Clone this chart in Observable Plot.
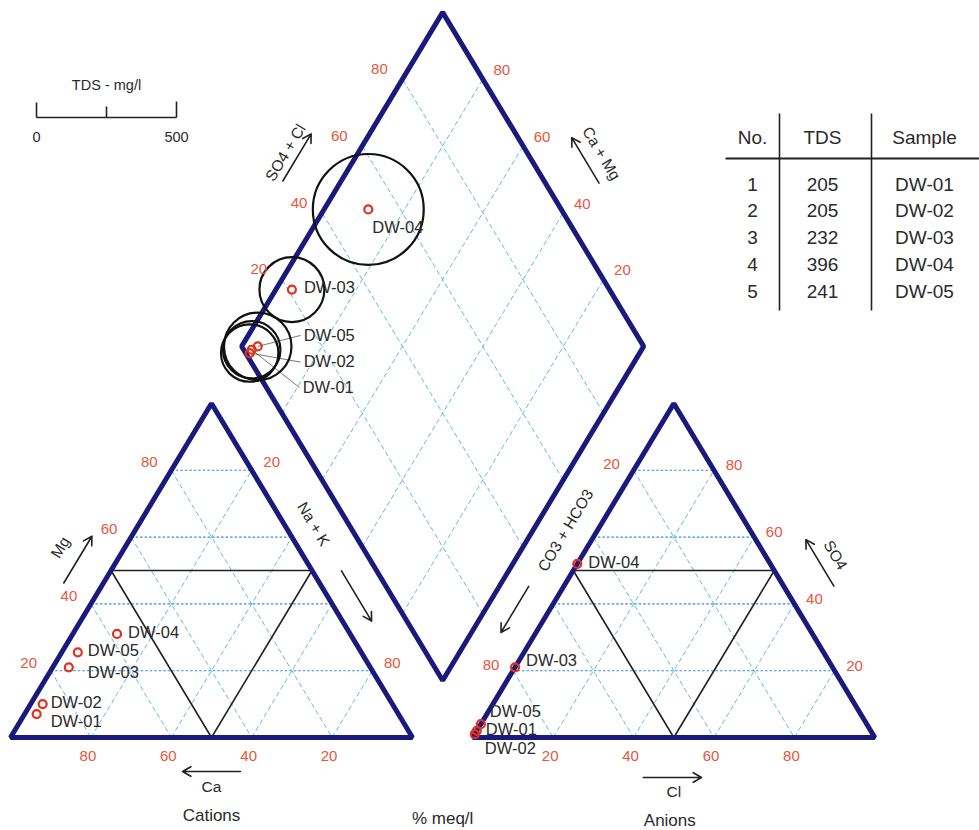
<!DOCTYPE html>
<html><head><meta charset="utf-8">
<script src="https://cdn.jsdelivr.net/npm/d3@7"></script>
<script src="https://cdn.jsdelivr.net/npm/@observablehq/plot@0.6"></script>
<style>body{margin:0;background:#fff;}</style>
</head><body><div id="chart"></div>
<script>
// ---------------- data ----------------
const samples  = ["DW-01", "DW-02", "DW-03", "DW-04", "DW-05"];
const sampleNo = [1, 2, 3, 4, 5];
const tds      = [205, 205, 232, 396, 241];
// cations, % meq/l
const caPct    = [90, 87, 75, 58, 70.5];
const mgPct    = [7, 10, 21, 31, 25.5];
const naKPct   = [3, 3, 4, 11, 4];
// anions, % meq/l
const hco3Pct  = [98, 99, 79, 48, 96];
const so4Pct   = [2, 1, 21, 52, 4];
const clPct    = [0, 0, 0, 0, 0];
const gridTicks = [20, 40, 60, 80];
const sparseTicks = [20, 80];   // edges where the axis title takes the middle
const tdsScaleDomain = [0, 500];
const tdsScaleLabels = ["0", "500"];
const tableHeaders = ["No.", "TDS", "Sample"];
const titleTexts = {cat: "Cations", an: "Anions", unit: "% meq/l", tds: "TDS - mg/l"};

// ---------------- layout ----------------
const W = 979, HT = 830;
const SIDE = 100, GAP = 15, H = SIDE * Math.sqrt(3) / 2, LIFT = 14.8;
const KX = 4.02, KY = 3.857, PX0 = 10, PY0 = 737;
const R_MAX = 70;
const xDomain = [-PX0 / KX, (W - PX0) / KX];
const yDomain = [(PY0 - HT) / KY, PY0 / KY];
const toPx = ([X, Y]) => [PX0 + X * KX, PY0 - Y * KY];
const fromPx = ([px, py]) => [(px - PX0) / KX, (PY0 - py) / KY];
const shift = (P, dx, dy) => [P[0] + dx / KX, P[1] - dy / KY];

const cat = (ca, mg, na) => [na + mg / 2, mg * H / 100];
const AX = SIDE + GAP;
const ani = (hco3, so4, cl) => [AX + cl + so4 / 2, so4 * H / 100];
const BX = SIDE + GAP / 2;
const dia = (a, c) => [BX + (a - c) / 2, LIFT + (a + c) * H / 100];

function edgeFrame(P0, P1, side) {
  const a = toPx(P0), b = toPx(P1);
  const len = Math.hypot(b[0] - a[0], b[1] - a[1]);
  const d = [(b[0] - a[0]) / len, (b[1] - a[1]) / len];
  const n = side === "left" ? [d[1], -d[0]] : [-d[1], d[0]];
  let ang = Math.atan2(d[1], d[0]) * 180 / Math.PI;
  if (ang < -90) ang += 180; if (ang > 90) ang -= 180;
  return {ang, at: (t, p) => fromPx([a[0] + d[0] * len * t + n[0] * p, a[1] + d[1] * len * t + n[1] * p])};
}

const RED = "#e8563c", NAVY = "#1a1a7c", TXT = "#2a2a2a";

// ---------------- derived ----------------
const rows = samples.map((s, i) => {
  const r = {s, no: sampleNo[i], tds: tds[i]};
  r.c = cat(caPct[i], mgPct[i], naKPct[i]);
  r.a = ani(hco3Pct[i], so4Pct[i], clPct[i]);
  r.d = dia(so4Pct[i] + clPct[i], caPct[i] + mgPct[i]);
  return r;
});
// label offsets (px) per panel
const catOff = [[14, 8], [8, -1], [19, 5], [11, -1], [10, -2]];
const aniOff = [[9, -1], [10, 15], [11, -7], [11, -1], [9, -12]];
const diaOff = [[51, 38], [54, 9], [12, -2], [4, 18], [46, -11]];
const diaLeader = [true, true, false, false, true];

const labels = [];
rows.forEach((r, i) => {
  labels.push({s: r.s, p: shift(r.c, ...catOff[i])});
  labels.push({s: r.s, p: shift(r.a, ...aniOff[i])});
  labels.push({s: r.s, p: shift(r.d, ...diaOff[i])});
});
const leaders = rows.map((r, i) => ({r, i})).filter(({i}) => diaLeader[i])
  .map(({r, i}) => ({p1: r.d, p2: shift(r.d, diaOff[i][0] - 3, diaOff[i][1])}));

const seg = (p1, p2) => ({p1, p2});
const hGrid = [], dGrid = [];
for (const v of gridTicks) {
  hGrid.push(seg(cat(100 - v, v, 0), cat(0, v, 100 - v)));
  dGrid.push(seg(cat(v, 100 - v, 0), cat(v, 0, 100 - v)));
  dGrid.push(seg(cat(100 - v, 0, v), cat(0, 100 - v, v)));
  hGrid.push(seg(ani(100 - v, v, 0), ani(0, v, 100 - v)));
  dGrid.push(seg(ani(v, 100 - v, 0), ani(v, 0, 100 - v)));
  dGrid.push(seg(ani(100 - v, 0, v), ani(0, 100 - v, v)));
  dGrid.push(seg(dia(v, 0), dia(v, 100)));
  dGrid.push(seg(dia(0, v), dia(100, v)));
}

const outlines = [
  ...[cat(100, 0, 0), cat(0, 0, 100), cat(0, 100, 0)].map(p => ({g: "c", p})),
  ...[ani(100, 0, 0), ani(0, 0, 100), ani(0, 100, 0)].map(p => ({g: "a", p})),
  ...[dia(0, 0), dia(100, 0), dia(100, 100), dia(0, 100)].map(p => ({g: "d", p}))
];
const inner = [
  ...[cat(50, 50, 0), cat(0, 50, 50), cat(50, 0, 50)].map(p => ({g: "c", p})),
  ...[ani(50, 50, 0), ani(0, 50, 50), ani(50, 0, 50)].map(p => ({g: "a", p}))
];

const ticks = [];
for (const v of gridTicks) {
  ticks.push({v, p: shift(cat(100 - v, v, 0), -22, -8)});
  ticks.push({v, p: shift(cat(v, 0, 100 - v), -3, 19)});
  ticks.push({v, p: shift(ani(0, v, 100 - v), 20, -5)});
  ticks.push({v, p: shift(ani(100 - v, 0, v), -3, 19)});
  ticks.push({v, p: shift(dia(v, 100), -23, -10)});
  ticks.push({v, p: shift(dia(100, v), 19, -9)});
}
for (const v of sparseTicks) {
  ticks.push({v, p: shift(cat(0, 100 - v, v), 20, -8)});
  ticks.push({v, p: shift(ani(v, 100 - v, 0), -22, -6)});
}

const cL = edgeFrame(cat(100, 0, 0), cat(0, 100, 0), "left");
const cR = edgeFrame(cat(0, 0, 100), cat(0, 100, 0), "right");
const cB = edgeFrame(cat(100, 0, 0), cat(0, 0, 100), "right");
const aL = edgeFrame(ani(100, 0, 0), ani(0, 100, 0), "left");
const aR = edgeFrame(ani(0, 0, 100), ani(0, 100, 0), "right");
const aB = edgeFrame(ani(100, 0, 0), ani(0, 0, 100), "right");
const dL = edgeFrame(dia(0, 100), dia(100, 100), "left");
const dR = edgeFrame(dia(100, 0), dia(100, 100), "right");
const mid = edgeFrame(cat(0, 0, 100), ani(100, 0, 0), "right");

const axisTitles = [
  {e: cL, t: .484, p: 55, s: "Mg"},
  {e: cR, t: .60, p: 25, s: "Na + K"},
  {e: cB, t: .5, p: 50, s: "Ca"},
  {e: aL, t: .578, p: 27, s: "CO3 + HCO3"},
  {e: aR, t: .453, p: 60, s: "SO4"},
  {e: aB, t: .5, p: 55, s: "Cl"},
  {e: dL, t: .484, p: 62, s: "SO4 + Cl"},
  {e: dR, t: .48, p: 63, s: "Ca + Mg"}
].map(d => ({s: d.s, p: d.e.at(d.t, d.p), rot: d.e.ang}));
const bigTitles = [
  {s: titleTexts.cat, p: cB.at(.5, 78)},
  {s: titleTexts.an, p: aB.at(.49, 83)},
  {s: titleTexts.unit, p: mid.at(.5, 81)}
];
const arrows = [
  {e: cL, t0: .41, t1: .55, p: 34},
  {e: cR, t0: .46, t1: .31, p: 25},
  {e: cB, t0: .572, t1: .428, p: 34},
  {e: aL, t0: .406, t1: .268, p: 30},
  {e: aR, t0: .387, t1: .526, p: 43},
  {e: aB, t0: .424, t1: .569, p: 40},
  {e: dL, t0: .418, t1: .559, p: 50},
  {e: dR, t0: .418, t1: .554, p: 46}
].map(d => ({p1: d.e.at(d.t0, d.p), p2: d.e.at(d.t1, d.p)}));

// TDS scale bar (length = diameter of 500 on the r scale)
const LG = {x0: 36, y: 117, titleY: 85, labY: 137};
const barLen = 2 * R_MAX;
const barX = v => LG.x0 + barLen * (v - tdsScaleDomain[0]) / (tdsScaleDomain[1] - tdsScaleDomain[0]);
const legendLines = [
  {p1: fromPx([barX(0), LG.y]), p2: fromPx([barX(500), LG.y])},
  {p1: fromPx([barX(0), LG.y]), p2: fromPx([barX(0), LG.y - 15])},
  {p1: fromPx([barX(250), LG.y]), p2: fromPx([barX(250), LG.y - 11])},
  {p1: fromPx([barX(500), LG.y]), p2: fromPx([barX(500), LG.y - 16])}
];
const legendTexts = [
  {s: titleTexts.tds, p: fromPx([(barX(0) + barX(500)) / 2, LG.titleY])},
  {s: tdsScaleLabels[0], p: fromPx([barX(0), LG.labY])},
  {s: tdsScaleLabels[1], p: fromPx([barX(500), LG.labY])}
];

// table
const TB = {cols: [752, 822, 924], headY: 137, row0: 184, rowH: 26.8, lineY: 158, x0: 725, x1: 979, v: [779, 871], yTop: 113, yBot: 310};
const tableCells = [];
tableHeaders.forEach((h, j) => tableCells.push({s: h, p: fromPx([TB.cols[j], TB.headY])}));
rows.forEach((r, i) => {
  [String(r.no), String(r.tds), r.s].forEach((s, j) =>
    tableCells.push({s, p: fromPx([TB.cols[j], TB.row0 + i * TB.rowH])}));
});
const tableLines = [
  {p1: fromPx([TB.x0, TB.lineY]), p2: fromPx([TB.x1, TB.lineY]), w: 2},
  ...TB.v.map(x => ({p1: fromPx([x, TB.yTop]), p2: fromPx([x, TB.yBot]), w: 1.6}))
];

const L = (data, o) => Plot.link(data, {x1: d => d.p1[0], y1: d => d.p1[1], x2: d => d.p2[0], y2: d => d.p2[1], ...o});
const T = (data, o) => Plot.text(data, {x: d => d.p[0], y: d => d.p[1], text: d => d.s, ...o});

const chart = Plot.plot({
  width: W, height: HT, margin: 0,
  x: {domain: xDomain, axis: null},
  y: {domain: yDomain, axis: null},
  r: {type: "linear", domain: tdsScaleDomain, range: [0, R_MAX]},
  style: {fontFamily: "'Liberation Sans', Arial, sans-serif", background: "#fff"},
  marks: [
    L(dGrid, {stroke: "#4fb4e0", strokeWidth: 0.9, strokeDasharray: "5,3"}),
    L(hGrid, {stroke: "#2f8fd8", strokeWidth: 1.1, strokeDasharray: "2.5,2"}),
    Plot.line(inner, {x: d => d.p[0], y: d => d.p[1], z: "g", curve: "linear-closed", stroke: "#222", strokeWidth: 1.6}),
    Plot.line(outlines, {x: d => d.p[0], y: d => d.p[1], z: "g", curve: "linear-closed", stroke: NAVY, strokeWidth: 5, strokeLinejoin: "miter"}),
    L(leaders, {stroke: "#555", strokeWidth: 0.8}),
    Plot.dot(rows, {x: d => d.d[0], y: d => d.d[1], r: "tds", stroke: "#111", strokeWidth: 2.2, fill: "none"}),
    Plot.dot(rows, {x: d => d.c[0], y: d => d.c[1], r: 4, stroke: "#e0301e", strokeWidth: 2.2, fill: "none"}),
    Plot.dot(rows, {x: d => d.a[0], y: d => d.a[1], r: 4, stroke: "#e0301e", strokeWidth: 2.2, fill: "none"}),
    Plot.dot(rows, {x: d => d.d[0], y: d => d.d[1], r: 4, stroke: "#e0301e", strokeWidth: 2.2, fill: "none"}),
    T(labels, {textAnchor: "start", fill: TXT, fontSize: 16.5}),
    Plot.text(ticks, {x: d => d.p[0], y: d => d.p[1], text: d => String(d.v), fill: RED, fontSize: 15}),
    T(axisTitles, {rotate: d => d.rot, fill: TXT, fontSize: 15.5}),
    T(bigTitles, {fill: TXT, fontSize: 17}),
    Plot.arrow(arrows, {x1: d => d.p1[0], y1: d => d.p1[1], x2: d => d.p2[0], y2: d => d.p2[1], stroke: "#222", strokeWidth: 1.6, headLength: 9}),
    L(legendLines, {stroke: "#222", strokeWidth: 1.6}),
    T(legendTexts, {fill: TXT, fontSize: 14.5}),
    L(tableLines, {stroke: "#222", strokeWidth: d => d.w}),
    T(tableCells, {fill: TXT, fontSize: 19})
  ]
});
document.getElementById("chart").append(chart);
</script>
</body></html>
